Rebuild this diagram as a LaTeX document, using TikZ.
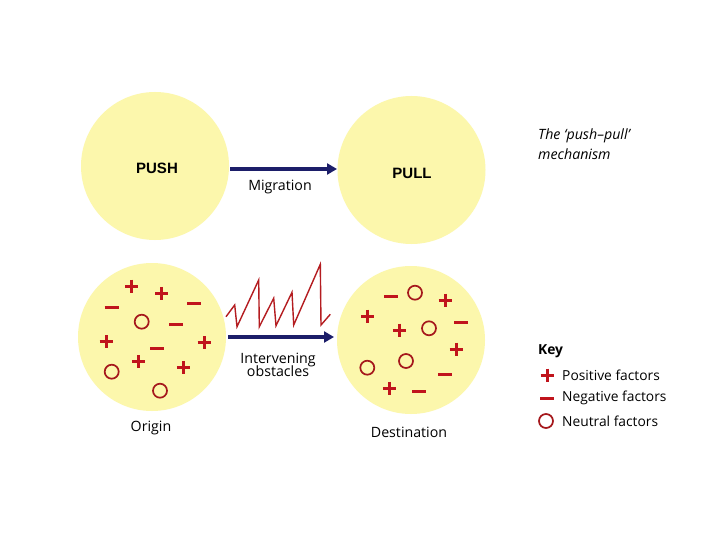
\documentclass[tikz,border=0pt]{standalone}
\usepackage{fontspec}
\setmainfont{Open Sans}
\newfontfamily\arialfont{Liberation Sans}
\usetikzlibrary{arrows.meta}
\definecolor{bubblefill}{RGB}{252,247,172}
\definecolor{navy}{RGB}{28,30,105}
\definecolor{symred}{RGB}{192,20,28}
\definecolor{ringred}{RGB}{165,24,28}
\definecolor{zigred}{RGB}{180,28,32}
\tikzset{
  bubble/.style={circle,fill=bubblefill,minimum size=148pt,inner sep=0pt},
  navyarrow/.style={draw=navy,line width=4pt,-{Triangle[length=10pt,width=11pt]}},
  lbl/.style={font=\fontsize{14.2}{16}\selectfont,align=center,inner sep=0pt},
  keylbl/.style={font=\fontsize{13.8}{16}\selectfont,anchor=west,inner sep=0pt},
  bigword/.style={font=\arialfont\bfseries\fontsize{15}{18}\selectfont},
  plussign/.pic={\draw[symred,line width=3pt] (-6.5,0)--(6.5,0) (0,-6.5)--(0,6.5);},
  minussign/.pic={\draw[symred,line width=3pt] (-7,0)--(7,0);},
  neutral/.pic={\draw[ringred,line width=1.7pt] (0,0) circle (7);}
}
\begin{document}
\begin{tikzpicture}[x=1pt,y=-1pt]
\useasboundingbox[fill=white] (0,0) rectangle (720,540);
% bubbles
\node[bubble] (push) at (155,166) {};
\node[bubble] (pull) at (411.5,170) {};
\node[bubble] (origin) at (152,337) {};
\node[bubble] (dest) at (411,340) {};
\node[bigword] (pushlbl) at (157,168) {PUSH};
\node[bigword] (pulllbl) at (412,173) {PULL};
% arrows
\coordinate (a1s) at (230,169);
\coordinate (a1e) at (337,169);
\coordinate (a2s) at (228,337);
\coordinate (a2e) at (334,337);
\draw[navyarrow] (a1s) -- (a1e);
\draw[navyarrow] (a2s) -- (a2e);
\node[lbl] (mig) at (280,187) {Migration};
\node[lbl] (obst) at (278,365) {Intervening\\[-3pt]obstacles};
% zigzag
\draw[zigred,line width=1.4pt,line join=miter] (226,316.7) -- (234.7,305) -- (237,326.7) -- (258.7,280) -- (259.3,326.7) -- (273.7,298.3) -- (276,325.7) -- (292,292.3) -- (293.7,325) -- (320.3,264.3) -- (321,325) -- (330.3,314.3);
% origin symbols
\pic at (131.7,286) {plussign};
\pic at (161.7,293.3) {plussign};
\pic at (111.7,307.3) {minussign};
\pic at (194,303.3) {minussign};
\pic at (141.7,321.7) {neutral};
\pic at (176,324) {minussign};
\pic at (106,341.7) {plussign};
\pic at (157.3,348.3) {minussign};
\pic at (204,342.7) {plussign};
\pic at (138.3,361.7) {plussign};
\pic at (111.7,371.7) {neutral};
\pic at (183.3,367.3) {plussign};
\pic at (160,390.7) {neutral};
% destination symbols
\pic at (391,296.7) {minussign};
\pic at (415,292.7) {neutral};
\pic at (445,300) {plussign};
\pic at (367.7,316) {plussign};
\pic at (399.3,330) {plussign};
\pic at (429,328.3) {neutral};
\pic at (461,322.7) {minussign};
\pic at (456,349) {plussign};
\pic at (367.3,367.7) {neutral};
\pic at (406,361) {neutral};
\pic at (445,374.3) {minussign};
\pic at (389.3,388.3) {plussign};
\pic at (419.3,391.7) {minussign};
% labels
\node[lbl] (orilbl) at (151,428) {Origin};
\node[lbl] (destlbl) at (409,432) {Destination};
\node[font=\itshape\fontsize{14.2}{19.5}\selectfont,align=left,anchor=north west,inner sep=0pt] (title) at (538,129) {The ‘push–pull’\\mechanism};
% key
\node[font=\bfseries\fontsize{13.8}{16}\selectfont,anchor=west,inner sep=0pt] (key) at (538,351) {Key};
\pic at (547,375) {plussign};
\pic at (547,398) {minussign};
\pic at (546,421) {neutral};
\node[keylbl] (k1) at (562,375) {Positive factors};
\node[keylbl] (k2) at (562,398) {Negative factors};
\node[keylbl] (k3) at (562,421) {Neutral factors};
\end{tikzpicture}
\end{document}
